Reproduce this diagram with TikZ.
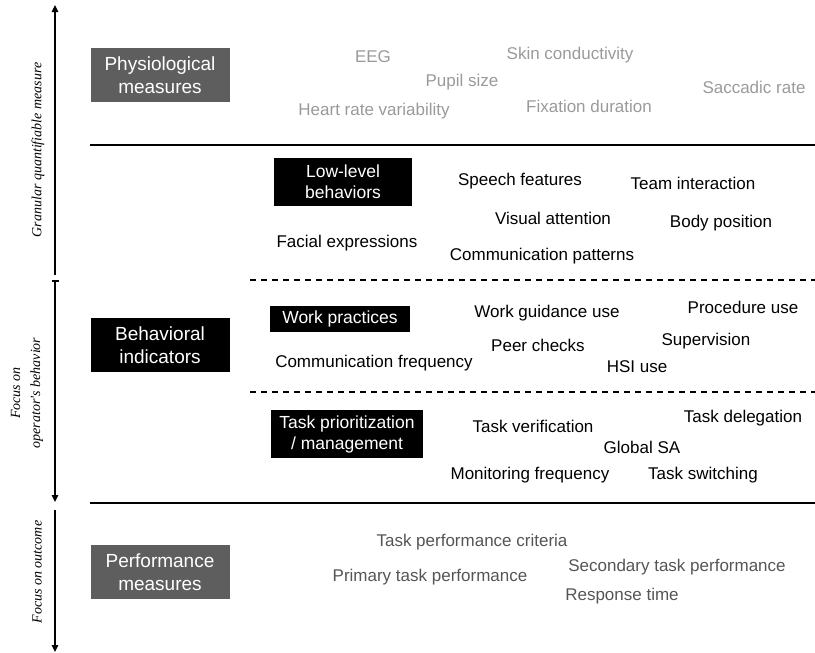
\documentclass[tikz,border=0pt]{standalone}
\usepackage{fontspec}
\setmainfont{Liberation Sans}
\newfontfamily\axisserif{Liberation Serif}
\usepackage{xcolor}
\usetikzlibrary{arrows.meta, positioning}

\definecolor{boxgray}{HTML}{5E5E5E}
\definecolor{physgray}{HTML}{9A9A9A}
\definecolor{perfgray}{HTML}{555555}

\begin{document}
\begin{tikzpicture}[x=1pt, y=-1pt,
    catbox/.style={fill=#1, text=white, align=center, minimum width=139pt, minimum height=54pt, inner sep=0pt, font=\fontsize{19}{23}\selectfont},
    subbox/.style={fill=black, text=white, align=center, inner sep=0pt, font=\fontsize{17.5}{21}\selectfont},
    item/.style={text=#1, inner sep=0pt, font=\fontsize{17}{20}\selectfont},
    item/.default=black,
    axislabel/.style={rotate=90, align=center, font=\axisserif\itshape\fontsize{14}{20}\selectfont},
    axisline/.style={line width=1.3pt, -{Triangle[length=7pt, width=6.5pt]}},
    sepline/.style={line width=2pt},
    dashline/.style={line width=1.3pt, dash pattern=on 6pt off 5pt}]
    \useasboundingbox (0,0) rectangle (815,653);

    % Left axis
    \coordinate (gtop) at (55,5);
    \coordinate (gbot) at (55,275);
    \coordinate (btop) at (55,280);
    \coordinate (bbot) at (55,502);
    \coordinate (otop) at (55,510);
    \coordinate (obot) at (55,652);
    \draw[axisline] (gbot) -- (gtop);
    \draw[axisline, {Bar[width=7pt, line width=2pt]}-{Triangle[length=7pt, width=6.5pt]}] (btop) -- (bbot);
    \draw[axisline] (otop) -- (obot);
    \node[axislabel] (granular) at (38,150) {Granular quantifiable measure};
    \node[axislabel] (focusop) at (27,393) {Focus on\\operator's behavior};
    \node[axislabel] (focusout) at (37,572) {Focus on outcome};

    % Separators
    \coordinate (s1a) at (90,145);  \coordinate (s1b) at (815,145);
    \coordinate (s2a) at (90,503);  \coordinate (s2b) at (815,503);
    \coordinate (d1a) at (250,280); \coordinate (d1b) at (815,280);
    \coordinate (d2a) at (250,392); \coordinate (d2b) at (815,392);
    \draw[sepline] (s1a) -- (s1b);
    \draw[sepline] (s2a) -- (s2b);
    \draw[dashline] (d1a) -- (d1b);
    \draw[dashline] (d2a) -- (d2b);

    % Physiological measures
    \node[catbox=boxgray] (phys) at (160,75) {Physiological\\measures};
    \node[item=physgray] (eeg) at (373,57) {EEG};
    \node[item=physgray] (skin) at (570,55) {Skin conductivity};
    \node[item=physgray] (pupil) at (462,82) {Pupil size};
    \node[item=physgray] (saccadic) at (754,87) {Saccadic rate};
    \node[item=physgray] (hrv) at (374,111) {Heart rate variability};
    \node[item=physgray] (fixation) at (589,106) {Fixation duration};

    % Behavioral indicators
    \node[catbox=black] (behav) at (160,345) {Behavioral\\indicators};

    % Low-level behaviors
    \node[subbox, minimum width=138pt, minimum height=48pt] (lowlevel) at (343,182) {Low-level\\behaviors};
    \node[item] (speech) at (520,181) {Speech features};
    \node[item] (team) at (693,183) {Team interaction};
    \node[item] (visual) at (553,218) {Visual attention};
    \node[item] (body) at (721,223) {Body position};
    \node[item] (facial) at (347,243) {Facial expressions};
    \node[item] (commpat) at (542,256) {Communication patterns};

    % Work practices
    \node[subbox, minimum width=140pt, minimum height=26pt] (work) at (340,319) {Work practices};
    \node[item] (guidance) at (547,313) {Work guidance use};
    \node[item] (procedure) at (743,307) {Procedure use};
    \node[item] (peer) at (538,345) {Peer checks};
    \node[item] (supervision) at (706,341) {Supervision};
    \node[item] (commfreq) at (374,363) {Communication frequency};
    \node[item] (hsi) at (637,367) {HSI use};

    % Task prioritization
    \node[subbox, minimum width=152pt, minimum height=48pt] (taskprio) at (347,434) {Task prioritization\\/ management};
    \node[item] (verification) at (533,426) {Task verification};
    \node[item] (delegation) at (743,418) {Task delegation};
    \node[item] (globalsa) at (642,447) {Global SA};
    \node[item] (monitoring) at (530,475) {Monitoring frequency};
    \node[item] (switching) at (703,475) {Task switching};

    % Performance measures
    \node[catbox=boxgray] (perf) at (160,572) {Performance\\measures};
    \node[item=perfgray] (criteria) at (472,542) {Task performance criteria};
    \node[item=perfgray] (secondary) at (677,567) {Secondary task performance};
    \node[item=perfgray] (primary) at (430,577) {Primary task performance};
    \node[item=perfgray] (response) at (622,596) {Response time};
\end{tikzpicture}
\end{document}
